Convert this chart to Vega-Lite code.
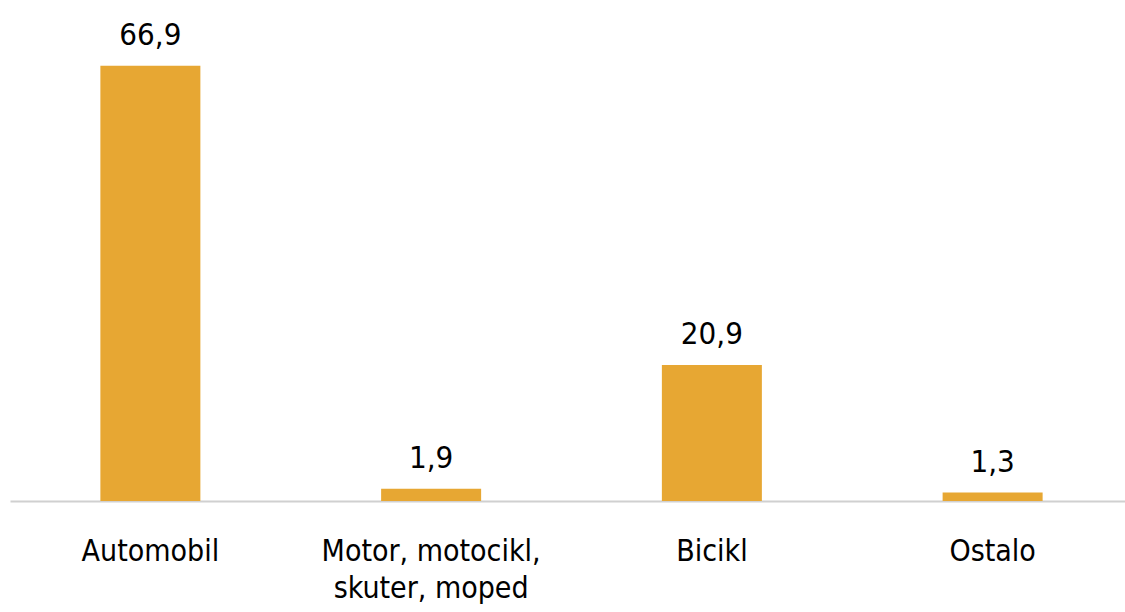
{
  "$schema": "https://vega.github.io/schema/vega-lite/v6.json",
  "width": 1123,
  "height": 501,
  "autosize": "none",
  "padding": {"left": 10, "top": 0, "right": 0, "bottom": 111},
  "background": "white",
  "config": {
    "view": {"stroke": null},
    "locale": {"number": {"decimal": ",", "thousands": ".", "grouping": [3], "currency": ["", " €"]}},
    "font": "DejaVu Sans Condensed"
  },
  "data": {
    "values": [
      {"kategorija": "Automobil", "vrijednost": 66.9},
      {"kategorija": "Motor, motocikl,|skuter, moped", "vrijednost": 1.9},
      {"kategorija": "Bicikl", "vrijednost": 20.9},
      {"kategorija": "Ostalo", "vrijednost": 1.3}
    ]
  },
  "encoding": {
    "x": {
      "field": "kategorija",
      "type": "nominal",
      "sort": null,
      "scale": {"paddingInner": 0.6438, "paddingOuter": 0.3219},
      "axis": {
        "title": null,
        "labelAngle": 0,
        "labelExpr": "split(datum.label, '|')",
        "labelFont": "DejaVu Sans Condensed",
        "labelFontSize": 30,
        "labelColor": "#000000",
        "labelLineHeight": 37,
        "labelPadding": 35,
        "labelBaseline": "top",
        "labelLimit": 0,
        "ticks": false,
        "domainColor": "#d0d0d0",
        "domainWidth": 2
      }
    },
    "y": {
      "field": "vrijednost",
      "type": "quantitative",
      "scale": {"domain": [0, 77], "nice": false},
      "axis": null
    }
  },
  "layer": [
    {"mark": {"type": "bar", "color": "#E7A733"}},
    {
      "mark": {"type": "text", "dy": -21, "baseline": "alphabetic", "fontSize": 31, "font": "DejaVu Sans Condensed", "color": "#000000"},
      "encoding": {"text": {"field": "vrijednost", "type": "quantitative", "format": ".1f"}}
    }
  ]
}
